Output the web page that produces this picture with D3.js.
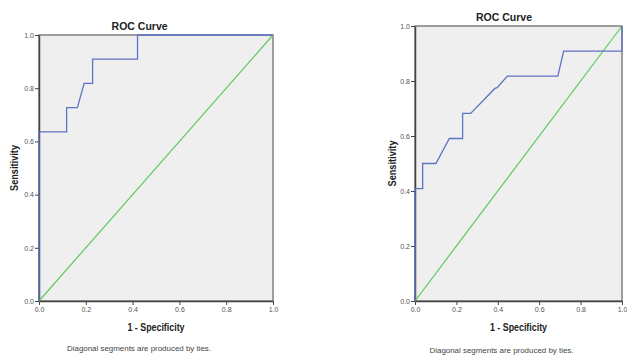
<html>
<head>
    <script src="https://d3js.org/d3.v7.min.js"></script>
    <style>
        body { margin: 0; background: white; }
        text { font-family: "Liberation Sans", Arial, sans-serif; }
        .tick text { fill: #555; font-size: 7px; }
        .tick line { stroke: #444; }
        .domain { stroke: #444; }
    </style>
</head>
<body>
    <svg id="chart" width="627" height="356"></svg>
    <script>
        // ROC curve 1 (left)
        const leftFpr = [0, 0, 0.118, 0.118, 0.164, 0.193, 0.229, 0.229, 0.421, 0.421, 1];
        const leftTpr = [0, 0.636, 0.636, 0.727, 0.727, 0.818, 0.818, 0.909, 0.909, 1, 1];
        // ROC curve 2 (right)
        const rightFpr = [0, 0, 0.037, 0.037, 0.101, 0.166, 0.230, 0.230, 0.269, 0.386, 0.397, 0.446, 0.690, 0.718, 1, 1];
        const rightTpr = [0, 0.409, 0.409, 0.5, 0.5, 0.591, 0.591, 0.682, 0.682, 0.773, 0.776, 0.818, 0.818, 0.909, 0.909, 1];
        const tickValues = [0, 0.2, 0.4, 0.6, 0.8, 1.0];

        const svg = d3.select("#chart");

        function drawROC(fpr, tpr, box) {
            const x = d3.scaleLinear().domain([0, 1]).range([box.x0, box.x1]);
            const y = d3.scaleLinear().domain([0, 1]).range([box.y0, box.y1]);
            const g = svg.append("g");

            g.append("rect")
                .attr("x", x(0)).attr("y", y(1))
                .attr("width", x(1) - x(0)).attr("height", y(0) - y(1))
                .attr("fill", "#efefef")
                .attr("stroke", "#808080")
                .attr("stroke-width", 1.5);

            g.append("g")
                .attr("transform", `translate(0,${y(0)})`)
                .call(d3.axisBottom(x).tickValues(tickValues).tickFormat(d3.format(".1f")).tickSizeInner(4).tickSizeOuter(0).tickPadding(2))
                .call(a => a.select(".domain").attr("stroke-width", 1.5));

            g.append("g")
                .attr("transform", `translate(${x(0)},0)`)
                .call(d3.axisLeft(y).tickValues(tickValues).tickFormat(d3.format(".1f")).tickSizeInner(4).tickSizeOuter(0).tickPadding(1))
                .call(a => a.select(".domain").attr("stroke-width", 1.5));

            // reference diagonal
            g.append("line")
                .attr("x1", x(0)).attr("y1", y(0))
                .attr("x2", x(1)).attr("y2", y(1))
                .attr("stroke", "#5cc95c")
                .attr("stroke-width", 1.2);

            const line = d3.line().x(d => x(d[0])).y(d => y(d[1]));
            g.append("path")
                .datum(d3.zip(fpr, tpr))
                .attr("d", line)
                .attr("fill", "none")
                .attr("stroke", "#5f73c4")
                .attr("stroke-width", 1.3);

            g.append("text")
                .attr("x", x(0.43)).attr("y", y(1) - 5)
                .attr("text-anchor", "middle")
                .attr("font-size", 10.5)
                .attr("font-weight", "bold")
                .attr("fill", "#222")
                .text("ROC Curve");

            g.append("text")
                .attr("x", x(0.5)).attr("y", y(0) + 30)
                .attr("text-anchor", "middle")
                .attr("font-size", 10)
                .attr("font-weight", "bold")
                .attr("fill", "#222")
                .attr("textLength", 57)
                .attr("lengthAdjust", "spacingAndGlyphs")
                .text("1 - Specificity");

            g.append("text")
                .attr("transform", `translate(${box.yLabelX},${y(box.yLabelAt)}) rotate(-90)`)
                .attr("text-anchor", "middle")
                .attr("font-size", 10)
                .attr("font-weight", "bold")
                .attr("fill", "#222")
                .attr("textLength", 46)
                .attr("lengthAdjust", "spacingAndGlyphs")
                .text("Sensitivity");

            g.append("text")
                .attr("x", x(0.5) - 17).attr("y", box.noteY)
                .attr("text-anchor", "middle")
                .attr("font-size", 8)
                .attr("fill", "#444")
                .attr("textLength", 144)
                .attr("lengthAdjust", "spacingAndGlyphs")
                .text("Diagonal segments are produced by ties.");
        }

        drawROC(leftFpr, leftTpr, { x0: 39, x1: 273, y0: 301, y1: 35, yLabelX: 18, yLabelAt: 0.5, noteY: 351 });
        drawROC(rightFpr, rightTpr, { x0: 415, x1: 622, y0: 301, y1: 26, yLabelX: 396, yLabelAt: 0.5, noteY: 353 });
    </script>
</body>
</html>
